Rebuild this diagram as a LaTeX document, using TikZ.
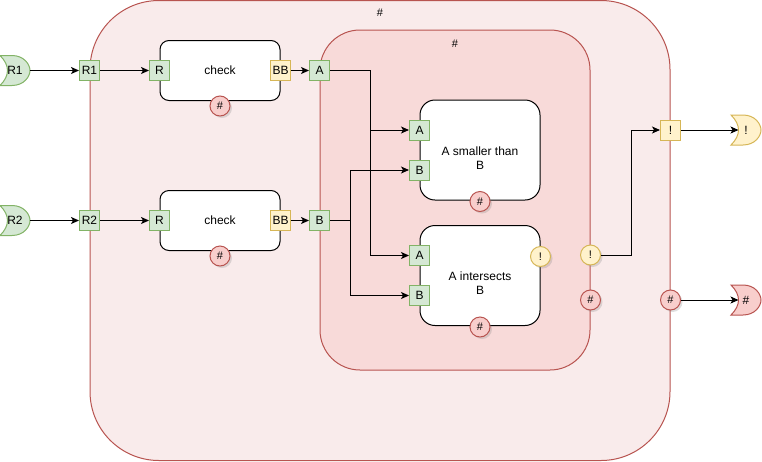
\documentclass[tikz,border=0pt]{standalone}
\usepackage{fontspec}
\setmainfont{Liberation Sans}
\usetikzlibrary{arrows.meta, positioning, shadows}
\definecolor{grnfill}{HTML}{D5E8D4}
\definecolor{grnline}{HTML}{82B366}
\definecolor{ylwfill}{HTML}{FFF2CC}
\definecolor{ylwline}{HTML}{D6B656}
\definecolor{redfill}{HTML}{F8CECC}
\definecolor{redline}{HTML}{B85450}
\definecolor{outerfill}{HTML}{F9EBEB}
\definecolor{innerfill}{HTML}{F8DAD9}
\tikzset{
  port/.style={draw, line width=1pt, minimum size=20pt, inner sep=0pt}, % small square ports
  gport/.style={port, fill=grnfill, draw=grnline},
  yport/.style={port, fill=ylwfill, draw=ylwline},
  dot/.style={circle, line width=1pt, minimum size=20pt, inner sep=0pt, font=\tagfont,
    drop shadow={shadow xshift=2pt, shadow yshift=-2pt, opacity=0.25}},
  errdot/.style={dot, fill=redfill, draw=redline},
  warndot/.style={dot, fill=ylwfill, draw=ylwline},
  block/.style={draw=black, fill=white, line width=1pt, minimum width=120pt},
  container/.style={draw=redline, line width=1pt},
  wire/.style={->, line width=1pt},
  gate/.pic={ % input / output terminal
    \path[pic actions, line width=1pt] (0,-15) -- (12,-15)
      .. controls (24,-15) and (30,-6) .. (30,0)
      .. controls (30,6) and (24,15) .. (12,15) -- (0,15)
      .. controls (10,5) and (10,-5) .. cycle;
    \node (-lbl) at (15,0) {#1};
    \coordinate (-tip) at (30,0);
    \coordinate (-in) at (7.5,0);
  },
}
\newcommand{\tagfont}{\fontsize{11}{13}\selectfont}

\begin{document}
\begin{tikzpicture}[x=1pt, y=-1pt, font=\fontsize{12}{14}\selectfont,
  >={Stealth[length=8pt, width=7pt, inset=2pt]}]
  \useasboundingbox (0,0) rectangle (762,461);
  % containers
  \node[container, fill=outerfill, minimum width=580pt, minimum height=460pt, rounded corners=69pt] (outer) at (380,230.5) {};
  \node[font=\tagfont] (outertag) at ([yshift=-13pt]outer.north) {\#};
  \node[container, fill=innerfill, minimum width=270pt, minimum height=340pt, rounded corners=40pt] (inner) at (455,200) {};
  \node[font=\tagfont] (innertag) at ([yshift=-14pt]inner.north) {\#};

  % check blocks
  \node[block, minimum height=60pt, rounded corners=9pt] (chk1) at (220,70.5) {check};
  \node[block, minimum height=60pt, rounded corners=9pt] (chk2) at (220,220.5) {check};
  \node[gport] (chk1r) at (chk1.west) {R};
  \node[yport] (chk1bb) at (chk1.east) {BB};
  \node[gport] (chk2r) at (chk2.west) {R};
  \node[yport] (chk2bb) at (chk2.east) {BB};
  \node[errdot] (chk1err) at ([yshift=-5pt]chk1.south) {\#};
  \node[errdot] (chk2err) at ([yshift=-5pt]chk2.south) {\#};

  % inputs
  \pic[fill=grnfill, draw=grnline] (r1src) at (0,70.5) {gate=R1};
  \pic[fill=grnfill, draw=grnline] (r2src) at (0,220.5) {gate=R2};
  \node[gport] (r1) at (outer.west |- chk1.west) {R1};
  \node[gport] (r2) at (outer.west |- chk2.west) {R2};
  \node[gport] (a) at (inner.west |- chk1.east) {A};
  \node[gport] (b) at (inner.west |- chk2.east) {B};

  % comparison blocks
  \node[block, minimum height=100pt, rounded corners=15pt] (less) at (480,150) {};
  \node[align=center] (lesstxt) at ([yshift=-8pt]less.center) {A smaller than\\B};
  \node[gport] (lessa) at ([yshift=20pt]less.west) {A};
  \node[gport] (lessb) at ([yshift=-20pt]less.west) {B};
  \node[errdot] (lesserr) at ([yshift=-1pt]less.south) {\#};

  \node[block, minimum height=100pt, rounded corners=15pt] (isect) at (480,275.5) {};
  \node[align=center] (isecttxt) at ([yshift=-8pt]isect.center) {A intersects\\B};
  \node[gport] (isecta) at ([yshift=20pt]isect.west) {A};
  \node[gport] (isectb) at ([yshift=-20pt]isect.west) {B};
  \node[errdot] (isecterr) at ([yshift=-1pt]isect.south) {\#};
  \node[warndot] (isectwarn) at ([yshift=19pt]isect.east) {!};

  % outputs
  \node[warndot] (innerwarn) at ([yshift=-55pt]inner.east) {!};
  \node[errdot] (innererr) at ([yshift=-100pt]inner.east) {\#};
  \node[yport] (outerwarn) at (outer.east |- lessa) {!};
  \node[errdot] (outererr) at (outer.east |- innererr) {\#};
  \pic[fill=ylwfill, draw=ylwline] (warnout) at ([xshift=50pt]outerwarn.east) {gate=!};
  \pic[fill=redfill, draw=redline] (errout) at ([xshift=50pt]outererr.east) {gate=\#};

  % wires
  \draw[wire] (r1src-tip) -- (r1.west);
  \draw[wire] (r1) -- (chk1r);
  \draw[wire] (chk1bb) -- (a);
  \draw[wire] (r2src-tip) -- (r2.west);
  \draw[wire] (r2) -- (chk2r);
  \draw[wire] (chk2bb) -- (b);
  \draw[wire] (a.east) -- ++(40,0) |- (lessa.west);
  \draw[wire] (a.east) -- ++(40,0) |- (isecta.west);
  \draw[wire] (b.east) -- ++(20,0) |- (lessb.west);
  \draw[wire] (b.east) -- ++(20,0) |- (isectb.west);
  \draw[wire] (innerwarn.east) -- ++(30,0) |- (outerwarn.west);
  \draw[wire] (outerwarn.east) -- (warnout-in);
  \draw[wire] (outererr.east) -- (errout-in);
\end{tikzpicture}
\end{document}
